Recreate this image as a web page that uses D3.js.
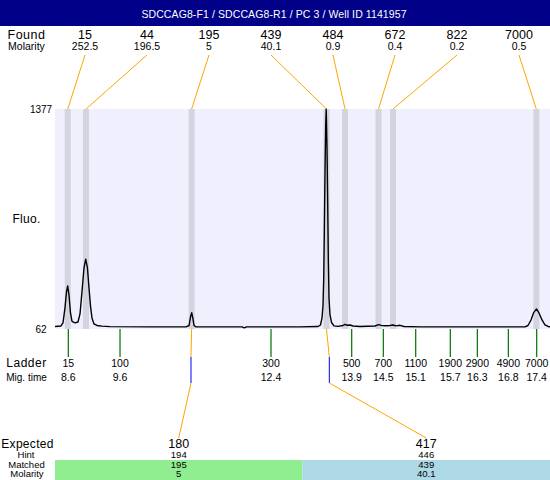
<!DOCTYPE html>
<html><head><meta charset="utf-8">
<script src="https://cdn.jsdelivr.net/npm/d3@7"></script>
<style>body{margin:0;background:#fff}svg{display:block}text{font-family:"Liberation Sans",Arial,sans-serif}</style>
</head><body>
<svg id="c" width="550" height="480"></svg>
<script>
const title = "SDCCAG8-F1 / SDCCAG8-R1 / PC 3 / Well ID 1141957";
// Found peaks
const foundSizes = [15, 44, 195, 439, 484, 672, 822, 7000];
const foundMolarity = ["252.5", "196.5", "5", "40.1", "0.9", "0.4", "0.2", "0.5"];
const foundTimes = [8.59, 8.933, 10.918, 13.453, 13.801, 14.431, 14.703, 17.397];
// Ladder
const ladderSizes = [15, 100, 300, 500, 700, 1100, 1900, 2900, 4900, 7000];
const ladderTimes = [8.60, 9.572, 12.41, 13.927, 14.521, 15.13, 15.78, 16.288, 16.871, 17.404];
const ladderTimeLabels = ["8.6", "9.6", "12.4", "13.9", "14.5", "15.1", "15.7", "16.3", "16.8", "17.4"];
// Y axis
const fluoTicks = [62, 1377];
// Trace (migration time, fluorescence)
const traceTime = [8.350,8.463,8.500,8.538,8.566,8.589,8.613,8.641,8.670,8.726,8.782,8.820,8.857,8.895,8.927,8.960,8.989,9.017,9.045,9.083,9.139,9.233,9.384,10.136,10.813,10.870,10.897,10.920,10.940,10.963,11.000,11.865,11.908,11.950,12.955,13.294,13.340,13.369,13.388,13.401,13.412,13.425,13.438,13.448,13.463,13.476,13.487,13.500,13.519,13.547,13.594,13.669,13.763,13.801,13.838,13.895,13.951,14.083,14.365,14.431,14.497,14.572,14.647,14.703,14.760,14.835,14.910,15.211,16.150,17.184,17.240,17.297,17.344,17.400,17.447,17.504,17.560,17.617,17.654];
const traceFluo = [77,80,98,188,284,319,265,158,107,99,104,152,284,427,479,427,308,199,128,92,83,79,76,75,75,83,134,159,128,83,75,75,69,75,75,77,86,128,205,367,642,1000,1281,1377,1132,803,486,247,146,101,81,78,83,90,84,86,80,77,80,88,82,81,83,86,81,84,77,75,75,75,83,116,158,182,158,116,86,77,75];
// Expected / matched table
const expectedSizes = [180, 417];
const hintSizes = [194, 446];
const matchedSizes = [195, 439];
const matchedMolarity = ["5", "40.1"];
const matchedFoundIndex = [2, 3];
const matchedTimes = [10.906, 13.506];

const svg = d3.select("#c");
const L = 55, R = 550, T = 109, B = 329;
const x = d3.scaleLinear().domain([8.35, 17.654]).range([L, R]);
const y = d3.scaleLinear().domain([62, 1377]).range([B, T]);
const labelX = d3.scalePoint().domain(d3.range(foundSizes.length)).range([85, 519]);
const colX = d3.scaleBand().domain(d3.range(expectedSizes.length)).range([L, R]);

// title bar
svg.append("rect").attr("x",0).attr("y",0).attr("width",550).attr("height",26).attr("fill","#000088");
svg.append("text").attr("x",274).attr("y",17.5).attr("text-anchor","middle").attr("fill","#fff")
  .attr("font-size","10.5px").attr("letter-spacing",0.1).text(title);

// left labels
const lab = (t, xx, yy, fs, ls) => svg.append("text").attr("x",xx).attr("y",yy).attr("text-anchor","middle")
  .attr("font-size",fs).attr("letter-spacing",ls||0).text(t);
lab("Found", 26.5, 39, "12.5px", 0.5);
lab("Molarity", 26.5, 50, "10.5px");
lab("Fluo.", 26.5, 223, "12px", 0.3);
lab("Ladder", 26.5, 367, "12px", 0.5);
lab("Mig. time", 26.5, 381, "10px");
lab("Expected", 27.5, 447.5, "12px", 0.3);
lab("Hint", 26, 458, "9.5px");
lab("Matched", 26.5, 467.5, "9.5px");
lab("Molarity", 27, 476.5, "9.5px");

// plot area
svg.append("rect").attr("x",L).attr("y",T).attr("width",R-L).attr("height",B-T).attr("fill","#efeffd");
svg.selectAll("rect.band").data(foundTimes).join("rect").attr("class","band")
  .attr("x",d=>x(d)-3).attr("y",T).attr("width",6).attr("height",B-T).attr("fill","#d4d4e1");

// y tick labels
svg.selectAll("text.yt").data(fluoTicks).join("text").attr("class","yt")
  .attr("x",41).attr("y",d=>y(d)+3.8).attr("text-anchor","middle").attr("font-size","10px").text(d=>d);

// trace
const line = d3.line().x(d=>x(d[0])).y(d=>y(d[1]));
svg.append("path").datum(d3.zip(traceTime, traceFluo)).attr("d",line)
  .attr("fill","none").attr("stroke","#000").attr("stroke-width",1.4).attr("stroke-linejoin","round");

// found labels
svg.selectAll("text.fs").data(foundSizes).join("text").attr("class","fs")
  .attr("x",(d,i)=>labelX(i)).attr("y",39).attr("text-anchor","middle").attr("font-size","12.5px").text(d=>d);
svg.selectAll("text.fm").data(foundMolarity).join("text").attr("class","fm")
  .attr("x",(d,i)=>labelX(i)).attr("y",50).attr("text-anchor","middle").attr("font-size","10.5px").text(d=>d);
svg.selectAll("line.fc").data(foundTimes).join("line").attr("class","fc")
  .attr("x1",(d,i)=>labelX(i)).attr("y1",55).attr("x2",d=>x(d)).attr("y2",T)
  .attr("stroke","#ffa500").attr("stroke-width",1);

// ladder ticks and labels
svg.selectAll("line.lt").data(ladderTimes).join("line").attr("class","lt")
  .attr("x1",d=>x(d)).attr("x2",d=>x(d)).attr("y1",B).attr("y2",357)
  .attr("stroke","#007000").attr("stroke-width",1.2);
svg.selectAll("text.ls").data(ladderSizes).join("text").attr("class","ls")
  .attr("x",(d,i)=>x(ladderTimes[i])).attr("y",366.7).attr("text-anchor","middle").attr("font-size","10.5px").text(d=>d);
svg.selectAll("text.lm").data(ladderTimeLabels).join("text").attr("class","lm")
  .attr("x",(d,i)=>x(ladderTimes[i])).attr("y",381).attr("text-anchor","middle").attr("font-size","10.5px").text(d=>d);

// expected table bars
const barCol = ["#90ee90", "#add8e6"];
svg.selectAll("rect.tb").data(expectedSizes).join("rect").attr("class","tb")
  .attr("x",(d,i)=>colX(i)).attr("y",460).attr("width",colX.bandwidth()).attr("height",20)
  .attr("fill",(d,i)=>barCol[i]);
const cx = i => colX(i) + colX.bandwidth()/2;
const row = (arr, yy, fs) => svg.selectAll(null).data(arr).enter().append("text")
  .attr("x",(d,i)=>cx(i)).attr("y",yy).attr("text-anchor","middle").attr("font-size",fs).text(d=>d);
row(expectedSizes, 447.5, "12.5px");
row(hintSizes, 458, "9.5px");
row(matchedSizes, 467.5, "9.5px");
row(matchedMolarity, 476.5, "9.5px");

// matched connectors
matchedTimes.forEach((mt, i) => {
  const fx = x(foundTimes[matchedFoundIndex[i]]), mx = x(mt);
  svg.append("line").attr("x1",fx).attr("y1",B).attr("x2",mx).attr("y2",357).attr("stroke","#ffa500");
  svg.append("line").attr("x1",mx).attr("y1",357).attr("x2",mx).attr("y2",383).attr("stroke","#0000ff");
  svg.append("line").attr("x1",mx).attr("y1",383).attr("x2",cx(i)).attr("y2",438).attr("stroke","#ffa500");
});
</script>
</body></html>
